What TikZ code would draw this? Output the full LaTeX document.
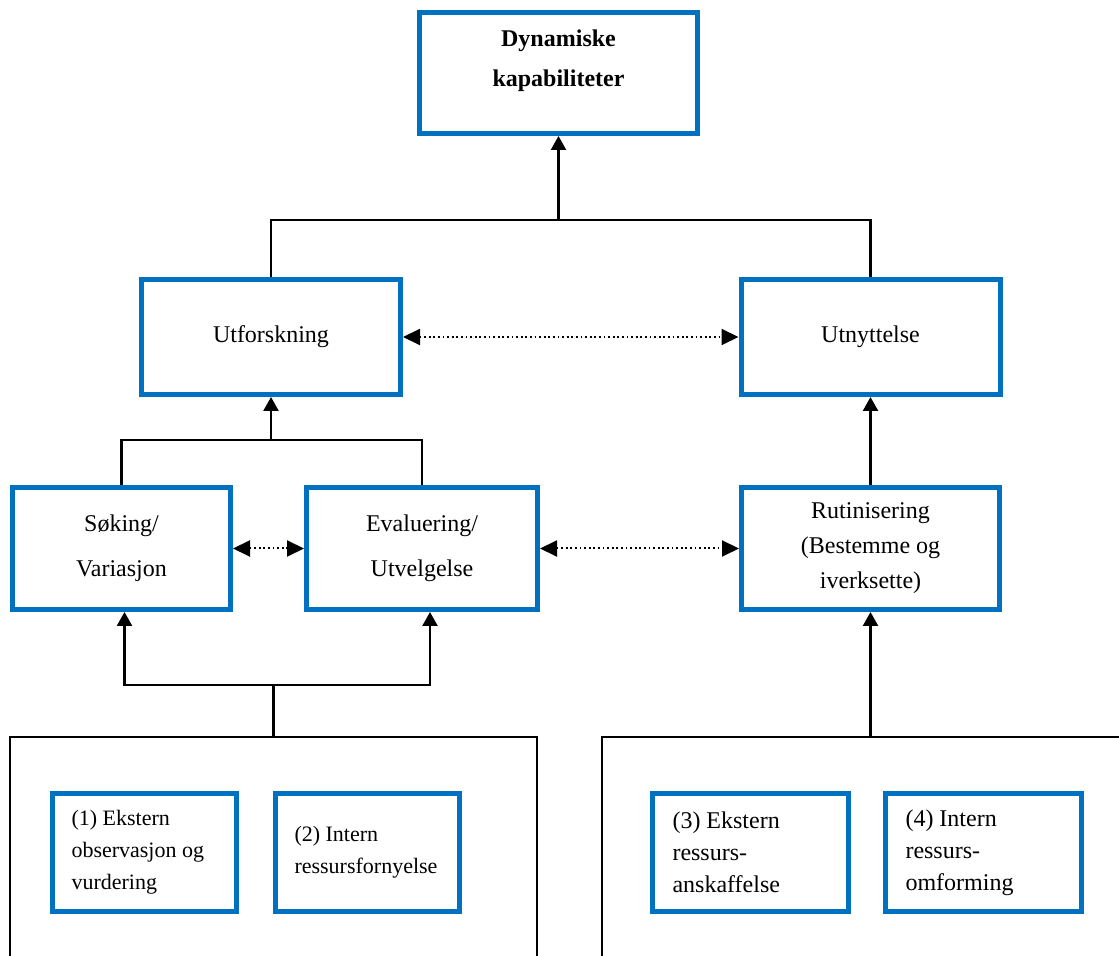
\documentclass[tikz,border=0pt]{standalone}
\usepackage{fontspec}
\setmainfont{Liberation Serif}
\usepackage{xcolor}
\usetikzlibrary{arrows.meta, positioning}
\definecolor{boxblue}{HTML}{0070C0}

\begin{document}
\begin{tikzpicture}[x=0.5pt, y=-0.5pt,
	bluebox/.style={draw=boxblue, line width=2.5pt, outer sep=1.25pt, align=center,
		font=\fontsize{12}{17.5}\selectfont},
	sourcebox/.style={draw=boxblue, line width=2.5pt, outer sep=1.25pt, align=flush left,
		minimum width=92pt, minimum height=59pt, inner xsep=9.5pt, text width=73pt,
		font=\fontsize{11}{16}\selectfont},
	widesource/.style={sourcebox, minimum width=98pt, inner xsep=10pt, text width=78pt,
		font=\fontsize{12}{16}\selectfont},
	groupbox/.style={draw=black, line width=1.1pt, outer sep=0.55pt},
	line/.style={draw=black, line width=1.2pt},
	arrow/.style={line, -{Triangle[length=7pt,width=7.5pt]}},
	dotarrow/.style={draw=black, line width=1pt, dash pattern=on 0.9pt off 1.4pt,
		{Triangle[length=8.5pt,width=8pt]}-{Triangle[length=8.5pt,width=8pt]}}]
				\useasboundingbox (0,0) rectangle (1119,956);
				\begin{scope}
					\clip (0,0) rectangle (1119,956);
					\node[groupbox, anchor=north, minimum width=263.5pt, minimum height=160pt] (leftgrp) at (273.5,736) {};
					\node[groupbox, anchor=north west, minimum width=300pt, minimum height=160pt] (rightgrp) at (601,736) {};
				\end{scope}
				\node[bluebox, minimum width=139pt, minimum height=60.5pt] (dyn) at (558.5,73) {};
				\node[align=center, font=\fontsize{12}{20}\selectfont\bfseries] (dyntext) at (558.5,61) {Dynamiske\\kapabiliteter};
				\node[bluebox, minimum width=129.5pt, minimum height=57.5pt] (utf) at (271,337) {Utforskning};
				\node[bluebox, minimum width=129.5pt, minimum height=57.5pt] (utn) at (870.5,337) {Utnyttelse};
				\node[bluebox, minimum width=109pt, minimum height=61pt, font=\fontsize{12}{22.5}\selectfont] (sok) at (121.5,548.5) {Søking/\\Variasjon};
				\node[bluebox, minimum width=115.5pt, minimum height=61pt, font=\fontsize{12}{22.5}\selectfont] (eval) at (422,548.5) {Evaluering/\\Utvelgelse};
				\node[bluebox, minimum width=129pt, minimum height=61pt] (rut) at (870.5,548.5) {Rutinisering\\(Bestemme og\\iverksette)};
				\node[sourcebox] (src1) at (144.5,852.5) {(1) Ekstern\\observasjon og\\vurdering};
				\node[sourcebox] (src2) at (367.5,852.5) {(2) Intern\\ressursfornyelse};
				\node[widesource] (src3) at (750.5,852.5) {(3) Ekstern\\ressurs-\\anskaffelse};
				\node[widesource] (src4) at (983.5,852.5) {(4) Intern\\ressurs-\\omforming};
				\coordinate (topjoin) at (558.5,220);
				\coordinate (midjoin) at (271,440);
				\coordinate (lowjoin) at (273.5,685);
				\draw[line] (utf.north) |- (topjoin) -| (utn.north);
				\draw[arrow] (topjoin) -- (dyn.south);
				\draw[line] (sok.north) |- (midjoin) -| (eval.north);
				\draw[arrow] (midjoin) -- (utf.south);
				\draw[arrow] (rut.north) -- (utn.south);
				\draw[line] (leftgrp.north) -- (lowjoin);
				\draw[arrow] (lowjoin) -| ([xshift=1.5pt]sok.south);
				\draw[arrow] (lowjoin) -| ([xshift=4pt]eval.south);
				\draw[arrow] (rightgrp.north -| rut.south) -- (rut.south);
				\draw[dotarrow] (utf.east) -- (utn.west);
				\draw[dotarrow] (sok.east) -- (eval.west);
				\draw[dotarrow] (eval.east) -- (rut.west);
			\end{tikzpicture}
\end{document}
